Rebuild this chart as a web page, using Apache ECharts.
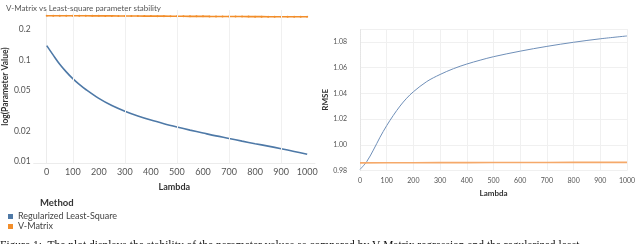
<!DOCTYPE html>
<html><head><meta charset="utf-8">
<script src="https://cdn.jsdelivr.net/npm/echarts@6/dist/echarts.min.js"></script>
<style>html,body{margin:0;padding:0;background:#fff;overflow:hidden}#c{width:640px;height:244px}</style>
</head><body><div id="c"></div>
<script>
// ---- data ----
const xTicks = [0,100,200,300,400,500,600,700,800,900,1000];
const leftYTicks = [0.01,0.02,0.05,0.1,0.2];
const rightYTicks = [0.98,1.00,1.02,1.04,1.06,1.08];

const lambdaLS = [0,25,50,75,100,125,150,200,250,300,350,400,450,500,550,600,650,700,750,800,850,900,950,1000];
const paramLS  = [0.139,0.112,0.091,0.0765,0.0655,0.0575,0.0512,0.0418,0.0355,0.0312,0.0280,0.0255,0.0235,0.0218,0.0203,0.0190,0.0178,0.0168,0.0158,0.0149,0.0141,0.0133,0.0125,0.0117];

const lambdaVM = [0,25,50,75,100,125,150,175,200,225,250,275,300,325,350,375,400,425,450,475,500,525,550,575,600,625,650,675,700,725,750,775,800,825,850,875,900,925,950,975,1000];
const paramVM  = [0.275,0.275,0.275,0.2748,0.2745,0.2745,0.2743,0.274,0.274,0.2738,0.2735,0.2733,0.273,0.273,0.2728,0.2725,0.2723,0.272,0.272,0.2718,0.2715,0.2713,0.271,0.271,0.2708,0.2705,0.2703,0.27,0.27,0.2698,0.2695,0.2693,0.269,0.269,0.2688,0.2686,0.2685,0.2684,0.2684,0.2683,0.2683];

const lambdaRmseLS = [0,25,50,75,100,125,150,175,200,250,300,350,400,450,500,600,700,800,900,1000];
const rmseLS       = [0.981,0.987,0.996,1.006,1.015,1.023,1.0302,1.0363,1.0413,1.0492,1.0547,1.0592,1.0628,1.0658,1.0685,1.0728,1.0765,1.0797,1.0824,1.0846];

const lambdaRmseVM = [0,100,200,300,400,500,600,700,800,900,1000];
const rmseVM       = [0.9861,0.9862,0.9862,0.9863,0.9863,0.9864,0.9864,0.9864,0.9865,0.9865,0.9865];

const names = ['Regularized Least-Square','V-Matrix'];
const colors = ['#4e79a7','#f28e2b'];
const caption = 'Figure 1:  The plot displays the stability of the parameter values as compared by V-Matrix regression and the regularized least-';

const zip = (a,b)=>a.map((v,i)=>[v,b[i]]);
const FONT = 'Lato';
const gridFaint = '#f0f0f0';

const chart = echarts.init(document.getElementById('c'), null, {renderer:'canvas'});
chart.setOption({
  animation:false,
  color: colors,
  textStyle:{fontFamily:FONT},
  title:{text:'V-Matrix vs Least-square parameter stability', left:1, top:-1,
    textStyle:{fontSize:8, fontWeight:'normal', color:'#555', fontFamily:FONT}},
  legend:{data:names, orient:'vertical', left:3, top:207, icon:'rect', itemWidth:5, itemHeight:5,
    itemGap:1, textStyle:{fontSize:9, color:'#444', fontFamily:FONT}},
  grid:[
    {left:32, width:283, top:10, bottom:81},
    {left:360, right:13, top:29, bottom:73.3}
  ],
  xAxis:[
    {type:'value', gridIndex:0, min:-50, max:1030,
      name:'Lambda', nameLocation:'middle', nameGap:20,
      nameTextStyle:{fontSize:9, fontWeight:'bold', color:'#333', fontFamily:FONT},
      axisLine:{show:true, lineStyle:{color:'#ececec'}}, axisTick:{show:false},
      axisLabel:{customValues:xTicks, fontSize:9, color:'#555', margin:5, formatter:v=>String(v)},
      splitLine:{show:false}},
    {type:'value', gridIndex:1, min:0, max:1000, interval:100,
      name:'Lambda', nameLocation:'middle', nameGap:18,
      nameTextStyle:{fontSize:8, fontWeight:'bold', color:'#333', fontFamily:FONT},
      axisLine:{show:false}, axisTick:{show:false},
      axisLabel:{fontSize:7, color:'#555', margin:7, formatter:v=>String(v)},
      splitLine:{show:true, lineStyle:{color:gridFaint, width:1}}}
  ],
  yAxis:[
    {type:'log', gridIndex:0, logBase:10, min:0.0096, max:0.313,
      name:'log(Parameter Value)', nameLocation:'middle', nameGap:20, nameRotate:90,
      nameTextStyle:{fontSize:8.5, fontWeight:'bold', color:'#333', fontFamily:FONT},
      axisLine:{show:true, lineStyle:{color:'#ececec'}}, axisTick:{show:false},
      axisLabel:{customValues:leftYTicks, fontSize:8.5, color:'#555', margin:3,
        formatter:v=>String(+v.toPrecision(2))},
      splitLine:{show:false}},
    {type:'value', gridIndex:1, min:0.98, max:1.09,
      name:'RMSE', nameLocation:'middle', nameGap:30, nameRotate:90,
      nameTextStyle:{fontSize:8, fontWeight:'bold', color:'#333', fontFamily:FONT},
      axisLine:{show:true, lineStyle:{color:'#e4e4e4', type:'dotted'}}, axisTick:{show:false},
      axisLabel:{customValues:rightYTicks, fontSize:7, color:'#555', margin:13,
        formatter:v=>v.toFixed(2)},
      splitLine:{show:true, lineStyle:{color:gridFaint}}}
  ],
  series:[
    {name:names[0], type:'line', xAxisIndex:0, yAxisIndex:0, data:zip(lambdaLS,paramLS),
      smooth:0.35, showSymbol:false, lineStyle:{width:1.6, color:colors[0]}, z:3,
      markLine:{silent:true, symbol:'none', label:{show:false},
        lineStyle:{color:gridFaint, type:'solid', width:1},
        data:[{xAxis:100},{xAxis:300},{xAxis:500},{xAxis:700},{xAxis:900}]}},
    {name:names[1], type:'line', xAxisIndex:0, yAxisIndex:0, data:zip(lambdaVM,paramVM),
      showSymbol:true, symbol:'circle', symbolSize:2, itemStyle:{color:colors[1]},
      lineStyle:{width:1.6, color:colors[1]}},
    {name:names[0], type:'line', xAxisIndex:1, yAxisIndex:1, data:zip(lambdaRmseLS,rmseLS),
      smooth:0.35, showSymbol:false, lineStyle:{width:1, color:'#6f8fb8'}},
    {name:names[1], type:'line', xAxisIndex:1, yAxisIndex:1, data:zip(lambdaRmseVM,rmseVM),
      showSymbol:false, lineStyle:{width:1.6, color:'#f5a96a'}}
  ],
  graphic:[
    {type:'text', left:40, top:198, style:{text:'Method', fontSize:9.5, fontWeight:'bold', fill:'#333', fontFamily:FONT}},
    {type:'text', left:0, top:240, style:{text:caption, fontSize:11.5, fill:'#111', fontFamily:'Liberation Serif'}}
  ]
});
</script></body></html>
